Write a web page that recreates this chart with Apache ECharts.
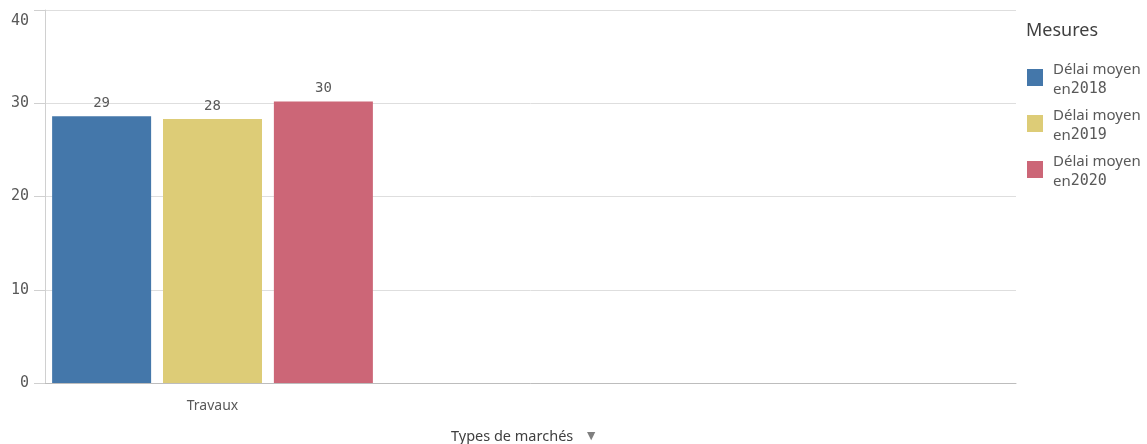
<!DOCTYPE html>
<html>
<head>
<meta charset="utf-8">
<script src="https://cdn.jsdelivr.net/npm/echarts@6/dist/echarts.min.js"></script>
<style>html,body{margin:0;padding:0;background:#fff;}#c{width:1147px;height:444px;}</style>
</head>
<body>
<div id="c"></div>
<script>
const categories = ['Travaux'];
const seriesNames = ['Délai moyen en2018', 'Délai moyen en2019', 'Délai moyen en2020'];
const values2018 = [28.6];
const values2019 = [28.3];
const values2020 = [30.2];
const yTicks = [0, 10, 20, 30, 40];
const colors = ['#4477aa', '#ddcc77', '#cc6677'];
const seriesValues = [values2018, values2019, values2020];

const chart = echarts.init(document.getElementById('c'), null, {renderer: 'canvas'});
const mono = '"DejaVu Sans Mono", monospace';
const sans = '"Noto Sans", sans-serif';
const grey = '#595959';
const yMax = yTicks[yTicks.length - 1];

const option = {
  animation: false,
  backgroundColor: '#fff',
  title: {
    text: 'Mesures', left: 1026, top: 22, padding: 0,
    textStyle: {fontFamily: sans, fontSize: 18, fontWeight: 'normal', color: '#404040'}
  },
  legend: {
    orient: 'vertical', left: 1027, top: 62, padding: 0,
    itemWidth: 16, itemHeight: 17, itemGap: 11,
    icon: 'rect',
    data: seriesNames,
    formatter: function (name) {
      const m = name.match(/^(.*) en(\d+)$/);
      return '{a|' + m[1] + '}\n{a|en}{b|' + m[2] + '}';
    },
    textStyle: {
      padding: [4, 0, 0, 5],
      rich: {
        a: {fontFamily: sans, fontSize: 15, color: grey, lineHeight: 20},
        b: {fontFamily: mono, fontSize: 15, color: grey, lineHeight: 20}
      }
    }
  },
  grid: [
    {left: 45, right: 131, top: 10, bottom: 61, outerBoundsMode: 'none', containLabel: false},
    {left: 45, width: 335, top: 10, bottom: 61, outerBoundsMode: 'none', containLabel: false}
  ],
  xAxis: [
    {
      gridIndex: 0, type: 'category', data: [''],
      axisLine: {show: true, lineStyle: {color: '#bdbdbd', width: 1}},
      axisTick: {show: false}, axisLabel: {show: false},
      name: '{t|Types de marchés}{s|   ▼}',
      nameLocation: 'middle', nameGap: 46,
      nameTextStyle: {
        padding: [0, 12, 0, 0],
        rich: {
          t: {fontFamily: sans, fontSize: 14.5, color: '#404040'},
          s: {fontFamily: sans, fontSize: 14, color: '#7f7f7f'}
        }
      }
    },
    {
      gridIndex: 1, type: 'category', data: categories,
      axisLine: {show: false}, axisTick: {show: false},
      axisLabel: {fontFamily: sans, fontSize: 14, color: grey, margin: 16}
    }
  ],
  yAxis: [
    {
      gridIndex: 0, type: 'value', min: yTicks[0], max: yMax, interval: 10,
      axisLine: {show: true, lineStyle: {color: '#d0d0d0'}},
      axisTick: {show: true, length: 11, lineStyle: {color: '#d0d0d0'}},
      axisLabel: {
        margin: 16,
        formatter: v => (v === yMax ? '{top|' + v + '}' : '{n|' + v + '}'),
        rich: {
          n: {fontFamily: mono, fontSize: 15, color: grey},
          top: {fontFamily: mono, fontSize: 15, color: grey, padding: [22, 0, 0, 0]}
        }
      },
      splitLine: {show: true, lineStyle: {color: '#dedede'}}
    },
    {
      gridIndex: 1, type: 'value', min: yTicks[0], max: yMax, show: false
    }
  ],
  series: seriesNames.map((n, i) => ({
    name: n, type: 'bar', xAxisIndex: 1, yAxisIndex: 1,
    data: seriesValues[i],
    barWidth: 99, barGap: '12%',
    itemStyle: {color: colors[i]},
    label: {
      show: true, position: 'top', distance: 6,
      fontFamily: mono, fontSize: 14, color: grey,
      formatter: p => Math.round(p.value)
    }
  }))
};
chart.setOption(option);
</script>
</body>
</html>
